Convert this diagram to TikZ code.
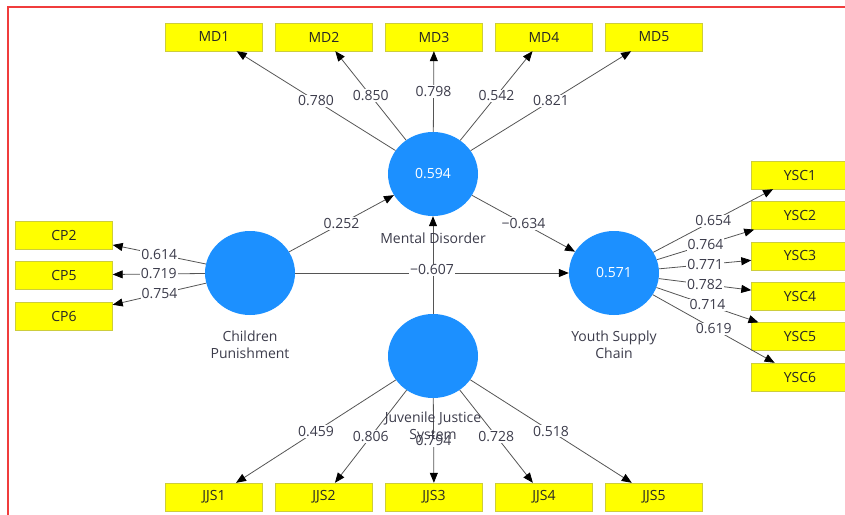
\documentclass[tikz,border=0pt]{standalone}
\usepackage{fontspec}
\setmainfont{Open Sans}
\usetikzlibrary{arrows.meta,shapes.geometric}

\definecolor{lvblue}{RGB}{28,144,255}
\definecolor{mvyellow}{RGB}{255,255,0}
\definecolor{mvborder}{RGB}{205,205,60}
\definecolor{linegray}{RGB}{85,85,85}
\definecolor{textgray}{RGB}{60,60,75}
\definecolor{framered}{RGB}{240,60,60}

\tikzset{
  latent/.style={ellipse,fill=lvblue,minimum width=90pt,minimum height=84pt,inner sep=0pt,text=white},
  item/.style={rectangle,draw=mvborder,fill=mvyellow,minimum width=97pt,minimum height=28pt,inner sep=0pt,text=black!85},
  coef/.style={fill=white,inner sep=1pt,text=textgray},
  caption/.style={text=textgray,align=center},
  link/.style={draw=linegray,line width=0.8pt,-{Triangle[length=10pt,width=8pt,color=black]}}
}

\begin{document}
\begin{tikzpicture}[x=1pt,y=-1pt,font=\fontsize{14}{17}\selectfont]
		\useasboundingbox (0,0) rectangle (845,514);
		\draw[framered,line width=1.5pt] (8,530) -- (8,7) -- (860,7);

		% latent variables
		\node[latent] (md) at (433,174) {0.594};
		\node[latent] (cp) at (250,273) {};
		\node[latent] (ysc) at (614,273) {0.571};
		\node[latent] (jjs) at (433,356) {};

		% indicators
		\foreach \i in {1,...,5} {
			\node[item] (md\i) at ({214+110*(\i-1)},37) {MD\i};
			\node[item] (jjs\i) at ({214+110*(\i-1)},497) {JJS\i};
		}
		\foreach \i/\y in {2/235,5/275,6/316}
			\node[item] (cp\i) at (64,\y) {CP\i};
		\foreach \i in {1,...,6}
			\node[item] (ysc\i) at (800,{175+40.4*(\i-1)}) {YSC\i};

		% loadings
		\foreach \i/\v in {1/0.780,2/0.850,3/0.798,4/0.542,5/0.821}
			\draw[link] (md) -- node[coef,midway] {\v} (md\i);
		\foreach \i/\v in {1/0.459,2/0.806,3/0.794,4/0.728,5/0.518}
			\draw[link] (jjs) -- node[coef,midway] {\v} (jjs\i);
		\foreach \i/\v in {2/0.614,5/0.719,6/0.754}
			\draw[link] (cp) -- node[coef,midway] {\v} (cp\i);
		\foreach \i/\v in {1/0.654,2/0.764,3/0.771,4/0.782,5/0.714,6/0.619}
			\draw[link] (ysc) -- node[coef,midway] {\v} (ysc\i);

		% paths
		\draw[link] (jjs) -- (md);
		\draw[link] (cp) -- node[coef,midway] {0.252} (md);
		\draw[link] (md) -- node[coef,midway] {−0.634} (ysc);
		\draw[link] (cp) -- node[coef,midway,yshift=3pt] {−0.607} (ysc);

		% names
		\node[caption] (mdname) at (433,238) {Mental Disorder};
		\node[caption] (cpname) at (250,345) {Children\\Punishment};
		\node[caption] (yscname) at (614,345) {Youth Supply\\Chain};
		\node[caption] (jjsname) at (433,427) {Juvenile Justice\\System};
\end{tikzpicture}
\end{document}
